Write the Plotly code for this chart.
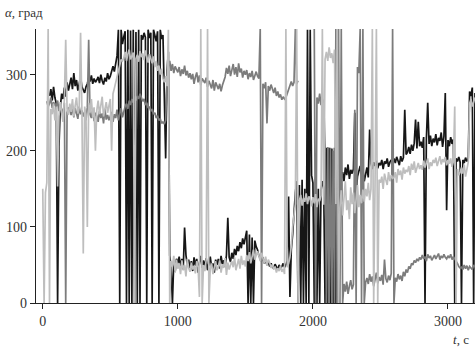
import plotly.graph_objects as go

# Sampling clock of the recorded angles (seconds)
T_START = 0
T_STEP = 10

# Angle of the three channels, degrees, one value per sample (None = no reading)
alpha_black = [
    None, None, None, None, None, 272, 281, 266, 284, 270,
    262, 0, 205, 258, 275, 268, 283, 271, 290, 279,
    288, 296, 281, 302, 285, 293, 279, 287, 297, 284,
    280, 276, 284, 288, 296, 291, 299, 288, 295, 290,
    293, 297, 289, 300, 292, 287, 296, 291, 302, 294,
    298, 306, 311, 304, 318, 325, 359, 0, 359, 340,
    350, 357, 0, 359, 0, 358, 0, 359, 0, 356,
    0, 359, 0, 352, 346, 355, 349, 0, 359, 348,
    355, 0, 359, 351, 344, 357, 0, 359, 347, 352,
    282, 190, 305, 330, 62, 48, 0, 55, 41, 58,
    52, 61, 47, 58, 44, 99, 63, 50, 57, 45,
    55, 42, 60, 49, 58, 40, 53, 62, 46, 56,
    48, 59, 43, 55, 61, 47, 52, 40, 57, 50,
    58, 45, 62, 51, 56, 48, 63, 112, 60, 54,
    66, 58, 71, 63, 75, 68, 80, 72, 85, 77,
    88, 95, 0, 90, 0, 86, 0, 82, 74, 70,
    62, 58, 55, 60, 52, 57, 50, 54, 48, 52,
    49, 45, 51, 47, 44, 50, 46, 48, 52, 47,
    50, 55, 140, 8, 70, 90, 120, 145, 160, 0,
    155, 0, 162, 0, 150, 0, 359, 0, 359, 168,
    158, 0, 165, 0, 150, 0, 148, 160, 152, 0,
    204, 0, 204, 0, 203, 0, 204, 0, 202, 0,
    150, 165, 172, 160, 178, 168, 182, 163, 175, 170,
    176, 250, 145, 166, 172, 180, 169, 175, 160, 171,
    178, 165, 228, 183, 176, 185, 180, 187, 177, 184,
    181, 188, 176, 186, 183, 190, 179, 185, 188, 182,
    190, 184, 192, 187, 181, 193, 186, 191, 254, 195,
    198, 205, 196, 208, 200, 210, 241, 203, 238, 206,
    212, 204, 218, 0, 215, 263, 209, 220, 206, 216,
    211, 222, 207, 217, 213, 224, 205, 219, 276, 122,
    214, 206, 218, 209, 215, 0, 190, 186, 192, 185,
    0, 188, 184, 191, 186, 190, 278, 272, 283, 0,
    276,
]

alpha_light = [
    150, 0, 145, 158, 360, 0, 255, 248, 262, 240,
    258, 153, 245, 264, 250, 238, 268, 346, 255, 247,
    262, 251, 268, 245, 259, 270, 249, 257, 355, 252,
    65, 258, 247, 100, 263, 250, 268, 244, 257, 200,
    253, 266, 248, 260, 271, 245, 258, 264, 250, 262,
    268, 200, 275, 282, 290, 297, 305, 312, 320, 318,
    322, 330, 318, 327, 333, 320, 325, 329, 0, 321,
    326, 317, 331, 323, 328, 319, 332, 324, 316, 327,
    322, 315, 324, 310, 318, 305, 312, 300, 308, 295,
    290, 298, 285, 359, 0, 55, 48, 62, 40, 57,
    45, 52, 38, 56, 43, 50, 35, 58, 46, 41,
    53, 44, 49, 39, 55, 47, 8, 360, 0, 50,
    42, 57, 360, 0, 45, 52, 38, 49, 55, 43,
    48, 56, 40, 51, 46, 59, 37, 53, 44, 50,
    55, 47, 60, 43, 52, 58, 45, 62, 50, 56,
    48, 63, 55, 67, 52, 60, 70, 57, 64, 68,
    62, 55, 66, 58, 52, 61, 49, 57, 53, 46,
    51, 44, 48, 40, 46, 42, 49, 41, 45, 38,
    360, 47, 52, 60, 75, 100, 118, 130, 360, 0,
    135, 142, 128, 138, 133, 144, 130, 140, 136, 127,
    139, 131, 143, 126, 137, 134, 141, 360, 129, 320,
    330, 318, 336, 322, 328, 315, 333, 130, 360, 0,
    125, 148, 115, 140, 160, 122, 135, 110, 152, 130,
    145, 118, 138, 155, 126, 142, 131, 149, 133, 150,
    140, 158, 135, 150, 360, 0, 155, 360, 0, 162,
    158, 166, 150, 170, 162, 155, 172, 160, 168, 164,
    165, 172, 158, 176, 168, 174, 162, 178, 170, 175,
    172, 180, 168, 183, 175, 186, 171, 179, 184, 176,
    181, 175, 187, 178, 183, 190, 176, 185, 180, 188,
    184, 191, 180, 187, 193, 182, 189, 185, 192, 181,
    188, 183, 190, 179, 186, 258, 0, 176, 168, 172,
    178, 170, 182, 166, 175, 185, 262, 268, 258, 265,
    270,
]

alpha_dark = [
    None, None, None, 265, 258, 262, 270, 256, 264, 260,
    258, 266, 252, 261, 255, 248, 263, 0, 250, 257,
    254, 247, 259, 244, 256, 250, 242, 258, 248, 253,
    245, 251, 240, 257, 346, 248, 243, 255, 239, 250,
    246, 238, 252, 243, 249, 236, 255, 241, 247, 240,
    245, 251, 238, 248, 243, 254, 240, 249, 256, 244,
    252, 258, 262, 255, 266, 260, 268, 263, 271, 266,
    272, 268, 275, 270, 265, 268, 260, 263, 256, 258,
    252, 255, 248, 250, 243, 246, 240, 242, 236, 238,
    235, 240, 290, 310, 318, 305, 314, 302, 311, 307,
    303, 310, 298, 307, 301, 312, 299, 305, 296, 302,
    294, 301, 288, 297, 303, 290, 299, 286, 295, 292,
    289, 296, 284, 292, 287, 282, 293, 279, 290, 284,
    281, 288, 278, 286, 292, 297, 309, 301, 312, 298,
    306, 314, 300, 310, 297, 315, 303, 308, 296, 305,
    300, 306, 294, 302, 297, 305, 293, 300, 304, 298,
    295, 360, 0, 288, 282, 290, 236, 285, 279, 287,
    280, 276, 283, 272, 278, 270, 274, 267, 271, 268,
    270, 275, 280, 287, 291, 285, 290, 360, 288, 292,
    None, None, None, None, None, None, None, None, None, None,
    None, 360, 0, 270, 262, 275, 260, 268, 264, 205,
    0, 205, 0, 204, 0, 200, 0, 360, 0, 360,
    0, 360, 0, 25, 15, 28, 12, 22, 30, 18,
    24, 254, 0, 310, 302, 360, 0, 360, 0, 27,
    33, 25, 38, 28, 35, 22, 31, 40, 26, 34,
    29, 37, 24, 57, 32, 27, 36, 30, 39, 360,
    0, 33, 28, 38, 31, 36, 29, 41, 35, 44,
    40, 48, 45, 52, 50, 56, 53, 58, 55, 60,
    57, 63, 58, 61, 55, 64, 59, 62, 56, 60,
    63, 58, 61, 65, 57, 62, 59, 64, 60, 58,
    62, 59, 64, 57, 61, 58, 56, 52, 48, 46,
    47, 44, 50, 45, 49, 43, 48, 46, 44, 50,
    47,
]

x_ticks = [0, 1000, 2000, 3000]
y_ticks = [0, 100, 200, 300]


def clock(values):
    return [T_START + T_STEP * i for i in range(len(values))]


SERIF = "Liberation Serif, Times New Roman, serif"

fig = go.Figure()
for vals, color in [
    (alpha_black, "#161616"),
    (alpha_dark, "#7c7c7c"),
    (alpha_light, "#bebebe"),
]:
    fig.add_trace(go.Scatter(
        x=clock(vals), y=vals, mode="lines",
        line=dict(color=color, width=1.7),
        connectgaps=False, showlegend=False, hoverinfo="skip",
    ))

axis_common = dict(
    showgrid=False, zeroline=False, showline=True,
    linecolor="#222", linewidth=1.3,
    ticks="outside", ticklen=5, tickwidth=1.2, tickcolor="#222",
    tickfont=dict(family=SERIF, size=14, color="#333"),
)

fig.update_xaxes(range=[-50, 3200], tickvals=x_ticks, **axis_common)
fig.update_yaxes(range=[0, 360], tickvals=y_ticks, **axis_common)

fig.update_layout(
    width=475, height=348,
    margin=dict(l=36, r=0, t=29, b=45),
    paper_bgcolor="white", plot_bgcolor="white",
    annotations=[
        dict(text="<i>α</i>, град", xref="paper", yref="paper",
             x=-0.075, y=1.06, xanchor="left", yanchor="middle",
             showarrow=False, font=dict(family=SERIF, size=13, color="#333")),
        dict(text="<i>t</i>, с", xref="paper", yref="paper",
             x=0.99, y=-0.135, xanchor="right", yanchor="middle",
             showarrow=False, font=dict(family=SERIF, size=13, color="#333")),
    ],
)

fig.write_html("out.html")
